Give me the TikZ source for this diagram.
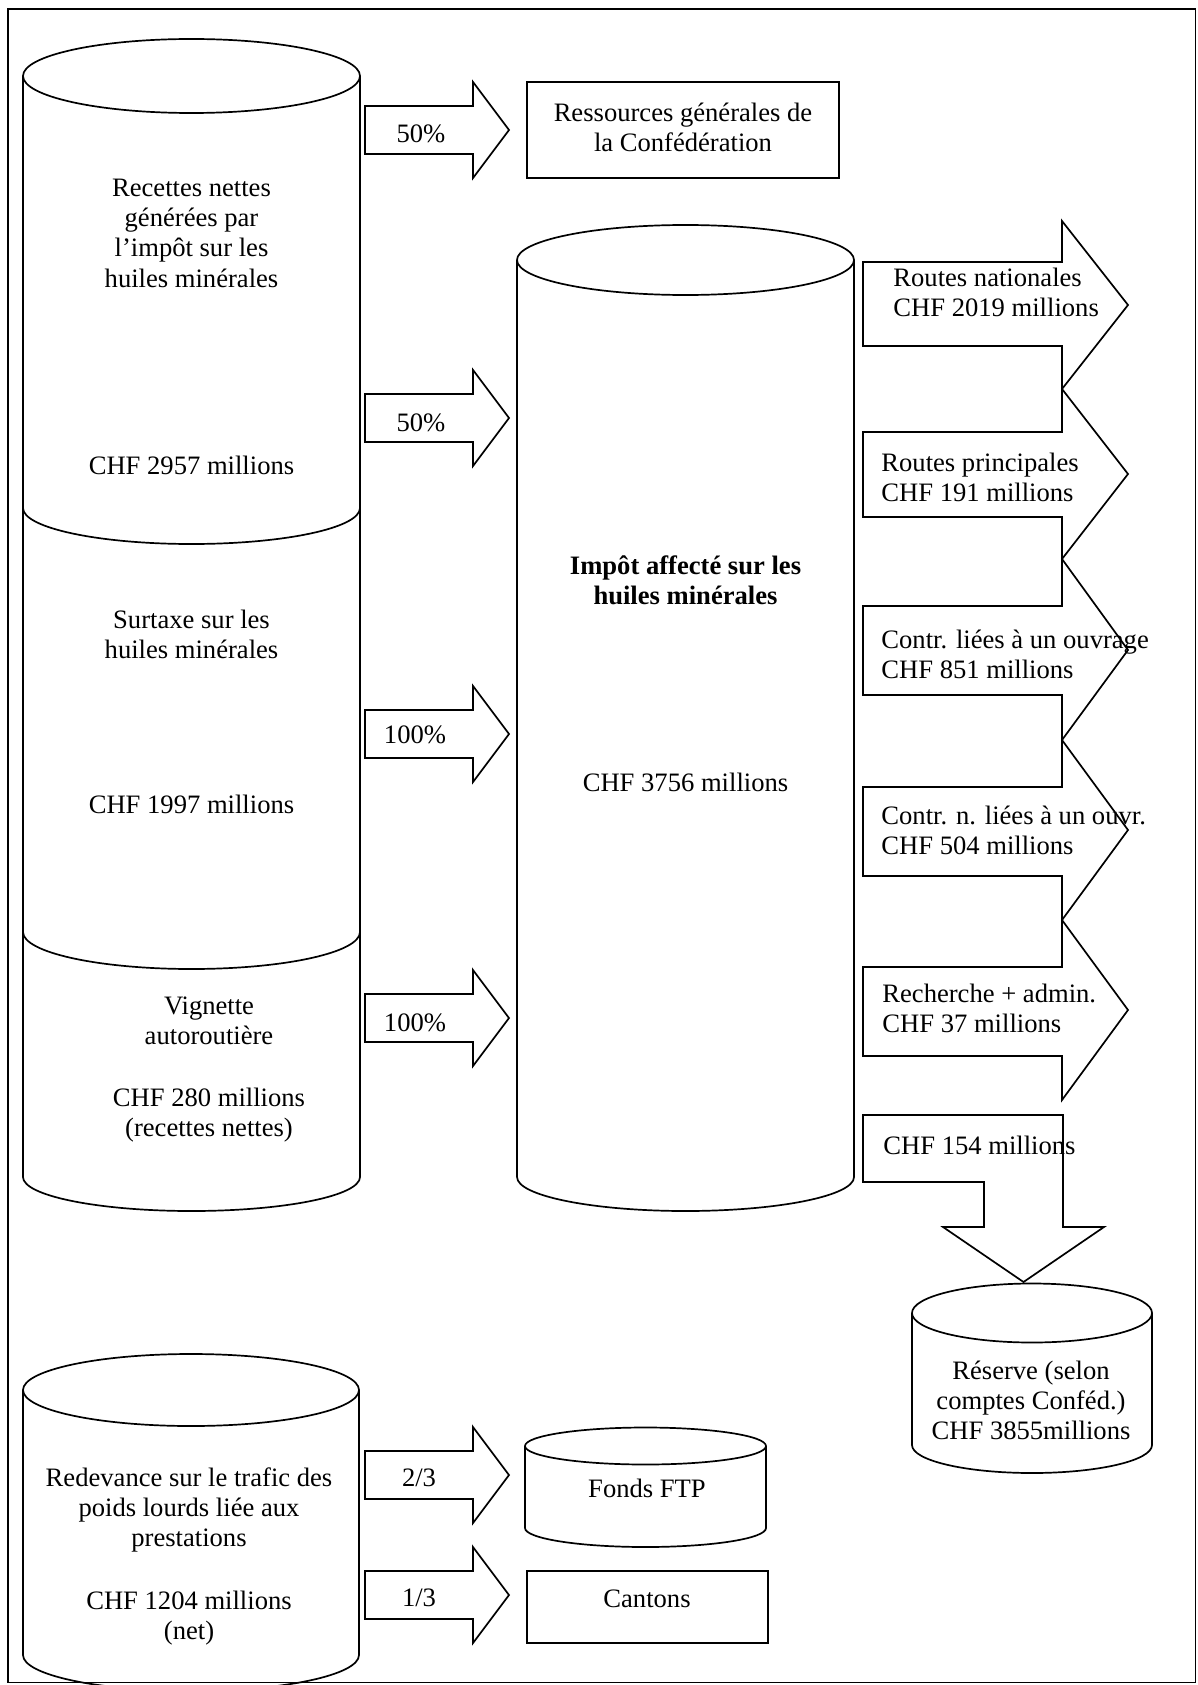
\documentclass[tikz,border=0pt]{standalone}
\usepackage{fontspec}
\setmainfont{Liberation Serif}
\tikzset{
  ln/.style={line width=0.85pt, line join=miter},
  txt/.style={inner sep=0pt, anchor=north, align=center, font=\fontsize{13.3}{15.1}\selectfont},
  txtl/.style={inner sep=0pt, anchor=north west, align=left, font=\fontsize{13.3}{15.1}\selectfont},
}
% horizontal block arrow: x0, xbase, xtip, headtop, shafttop, tipy, shaftbot, headbot
\newcommand\harrow[8]{\draw[ln] (#1,#5) -- (#2,#5) -- (#2,#4) -- (#3,#6) -- (#2,#8) -- (#2,#7) -- (#1,#7) -- cycle;}
% cylinder: cx, rx, ytop, ybot, ry top, ry bottom
\newcommand\cyl[6]{%
  \draw[ln] (#1,#3) ellipse [x radius=#2, y radius=#5];
  \draw[ln] (#1-#2,#3) -- (#1-#2,#4) arc[start angle=180, end angle=0, x radius=#2, y radius=#6] -- (#1+#2,#3);}
\begin{document}
\begin{tikzpicture}[x=0.5pt,y=-0.5pt]
\useasboundingbox (0,0) rectangle (1198,1685);
\fill[white] (0,0) rectangle (1198,1685);
\draw[ln] (8,9) rectangle (1195.5,1682.5);

% ---- left stacked cylinder
\cyl{191.5}{168.5}{76}{1177}{37}{34}
\draw[ln] (23,508) arc[start angle=180, end angle=0, x radius=168.5, y radius=36];
\draw[ln] (23,932) arc[start angle=180, end angle=0, x radius=168.5, y radius=37];
\node[txt] (recettes) at (191.5,175) {\strut Recettes nettes\\générées par\\l’impôt sur les\\huiles minérales};
\node[txt] (chf2957) at (191.5,453) {\strut CHF 2957 millions};
\node[txt] (surtaxe) at (191.5,607) {\strut Surtaxe sur les\\huiles minérales};
\node[txt] (chf1997) at (191.5,792) {\strut CHF 1997 millions};
\node[txt] (vignette) at (209,993) {\strut Vignette\\autoroutière};
\node[txt] (chf280) at (209,1085) {\strut CHF 280 millions\\(recettes nettes)};

% ---- left arrows
\harrow{365}{473}{509}{82}{106}{130}{154}{178}
\node[txt] (pA) at (421,121) {\strut 50\%};
\harrow{365}{473}{509}{370}{394}{418}{442}{466}
\node[txt] (pB) at (421,410) {\strut 50\%};
\harrow{365}{473}{509}{686}{710}{734}{758}{782}
\node[txt] (pC) at (415,722) {\strut 100\%};
\harrow{365}{473}{509}{970}{994}{1018}{1042}{1066}
\node[txt] (pD) at (415,1010) {\strut 100\%};

% ---- Ressources box
\draw[ln] (527,82) rectangle (839,178);
\node[txt] (ress) at (683,100) {\strut Ressources générales de\\la Confédération};

% ---- right cylinder
\cyl{685.5}{168.5}{260}{1177}{35}{34}
\node[txt, font=\fontsize{13.3}{15.1}\selectfont\bfseries] (impot) at (685.5,553) {\strut Impôt affecté sur les\\huiles minérales};
\node[txt] (chf3756) at (685.5,770) {\strut CHF 3756 millions};

% ---- right arrows
\harrow{863}{1062}{1128}{221}{262}{305}{346}{389}
\harrow{863}{1062}{1128}{389}{432}{474}{517}{559}
\harrow{863}{1062}{1128}{559}{606}{650}{695}{740}
\harrow{863}{1062}{1128}{740}{787}{830}{876}{920}
\harrow{863}{1062}{1128}{920}{967}{1010}{1056}{1100}
\node[txtl] (rn) at (893,265) {\strut Routes nationales\\CHF 2019 millions};
\node[txtl] (rp) at (881,450) {\strut Routes principales\\CHF 191 millions};
\node[txtl] (cl) at (881,627) {\strut Contr. liées à un ouvrage\\CHF 851 millions};
\node[txtl] (cnl) at (881,803) {\strut Contr. n. liées à un ouvr.\\CHF 504 millions};
\node[txtl] (rech) at (882,981) {\strut Recherche + admin.\\CHF 37 millions};

% ---- down arrow to reserve
\draw[ln] (863,1115) -- (1063,1115) -- (1063,1227) -- (1104,1227) -- (1023.5,1282) -- (943,1227) -- (984,1227) -- (984,1182) -- (863,1182) -- cycle;
\node[txtl] (chf154) at (883,1133) {\strut CHF 154 millions};

% ---- reserve cylinder
\cyl{1032}{120}{1313}{1445}{29.5}{28}
\node[txt] (reserve) at (1031,1358) {\strut Réserve (selon\\comptes Conféd.)\\CHF 3855millions};

% ---- bottom-left cylinder
\cyl{191}{168}{1390}{1655}{36}{36}
\node[txt] (redev) at (189,1465) {\strut Redevance sur le trafic des\\poids lourds liée aux\\prestations};
\node[txt] (chf1204) at (189,1588) {\strut CHF 1204 millions\\(net)};

\harrow{365}{473}{509}{1427}{1451}{1475}{1499}{1523}
\node[txt] (p23) at (419,1465) {\strut 2/3};
\harrow{365}{473}{509}{1547}{1571}{1595}{1619}{1643}
\node[txt] (p13) at (419,1585) {\strut 1/3};

% ---- Fonds FTP cylinder
\cyl{645.5}{120.5}{1446}{1528}{18.5}{19}
\node[txt] (ftp) at (647,1476) {\strut Fonds FTP};

% ---- Cantons box
\draw[ln] (527,1571) rectangle (768,1643);
\node[txt] (cantons) at (647,1586) {\strut Cantons};
\end{tikzpicture}
\end{document}
